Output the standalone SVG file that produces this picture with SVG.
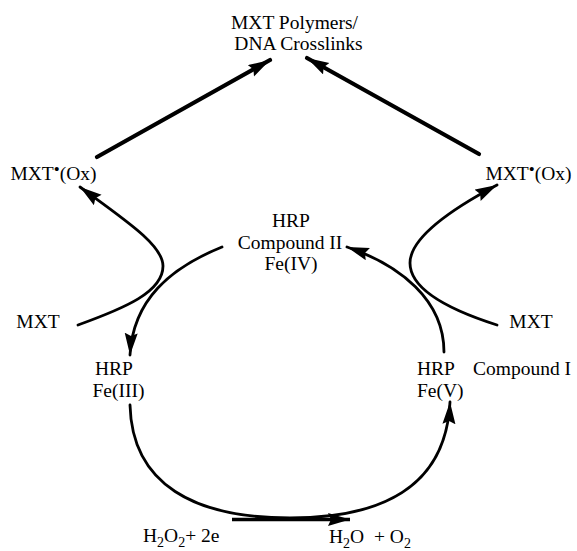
<svg xmlns="http://www.w3.org/2000/svg" width="577" height="551" viewBox="0 0 577 551">
<style>
text{font-family:"Liberation Serif","Times New Roman",serif;font-size:19.5px;fill:#000}
.m{text-anchor:middle}
.sub{font-size:14px}
.dot{font-size:17px}
.thick{fill:none;stroke:#000;stroke-width:4.2;stroke-linecap:round}
.curve{fill:none;stroke:#000;stroke-width:2.8;stroke-linecap:round}
</style>
<defs>
<marker id="ah" markerUnits="userSpaceOnUse" markerWidth="24" markerHeight="14" refX="22" refY="6.5" orient="auto">
<path d="M0,0 L22,6.5 L0,13 L3,6.5 z" fill="#000"/>
</marker>
</defs>
<g id="connectors">
<path class="thick" d="M97,157 L270,60" marker-end="url(#ah)"/>
<path class="thick" d="M479,154 L307,58" marker-end="url(#ah)"/>
<path class="curve" d="M78,325 C125,308 163,292 163,266 C163,245 125,220 80,187" marker-end="url(#ah)"/>
<path class="curve" d="M497,325 C450,310 410,290 410,263 C410,238 450,210 497,185" marker-end="url(#ah)"/>
<path class="curve" d="M222,247 C170,268 133,300 130,355" marker-end="url(#ah)"/>
<path class="curve" d="M444,352 C444,300 400,265 347,247" marker-end="url(#ah)"/>
<path class="curve" d="M130,405 C132,485 195,518 290,518 C385,518 446,485 450,402" marker-end="url(#ah)"/>
<path class="thick" d="M232,519.5 L350,519.5" style="stroke-width:3.6;stroke-linecap:butt" marker-end="url(#ah)"/>
</g>
<g id="products">
<text class="m" x="294.5" y="29">MXT Polymers/</text>
<text class="m" x="298.5" y="50">DNA Crosslinks</text>
</g>
<g id="mxt-ox-left">
<text class="m" x="53.5" y="180">MXT<tspan class="dot" dy="-5">•</tspan><tspan dy="5">(Ox)</tspan></text>
</g>
<g id="mxt-ox-right">
<text class="m" x="528.5" y="180">MXT<tspan class="dot" dy="-5">•</tspan><tspan dy="5">(Ox)</tspan></text>
</g>
<g id="compound-ii">
<text class="m" x="291" y="227">HRP</text>
<text class="m" x="290" y="249">Compound II</text>
<text class="m" x="291" y="270">Fe(IV)</text>
</g>
<g id="mxt-left">
<text class="m" x="38" y="328">MXT</text>
</g>
<g id="mxt-right">
<text class="m" x="531" y="328">MXT</text>
</g>
<g id="hrp-fe3">
<text class="m" x="114" y="375">HRP</text>
<text class="m" x="118.5" y="397">Fe(III)</text>
</g>
<g id="compound-i">
<text x="417" y="375">HRP</text>
<text x="417" y="397">Fe(V)</text>
<text class="m" x="522" y="375">Compound I</text>
</g>
<g id="h2o2">
<text x="143" y="542">H<tspan class="sub" dy="5">2</tspan><tspan dy="-5">O</tspan><tspan class="sub" dy="5">2</tspan><tspan dy="-5">+ 2e</tspan></text>
</g>
<g id="h2o">
<text x="329" y="543" xml:space="preserve">H<tspan class="sub" dy="5">2</tspan><tspan dy="-5">O  + O</tspan><tspan class="sub" dy="5">2</tspan></text>
</g>
</svg>
